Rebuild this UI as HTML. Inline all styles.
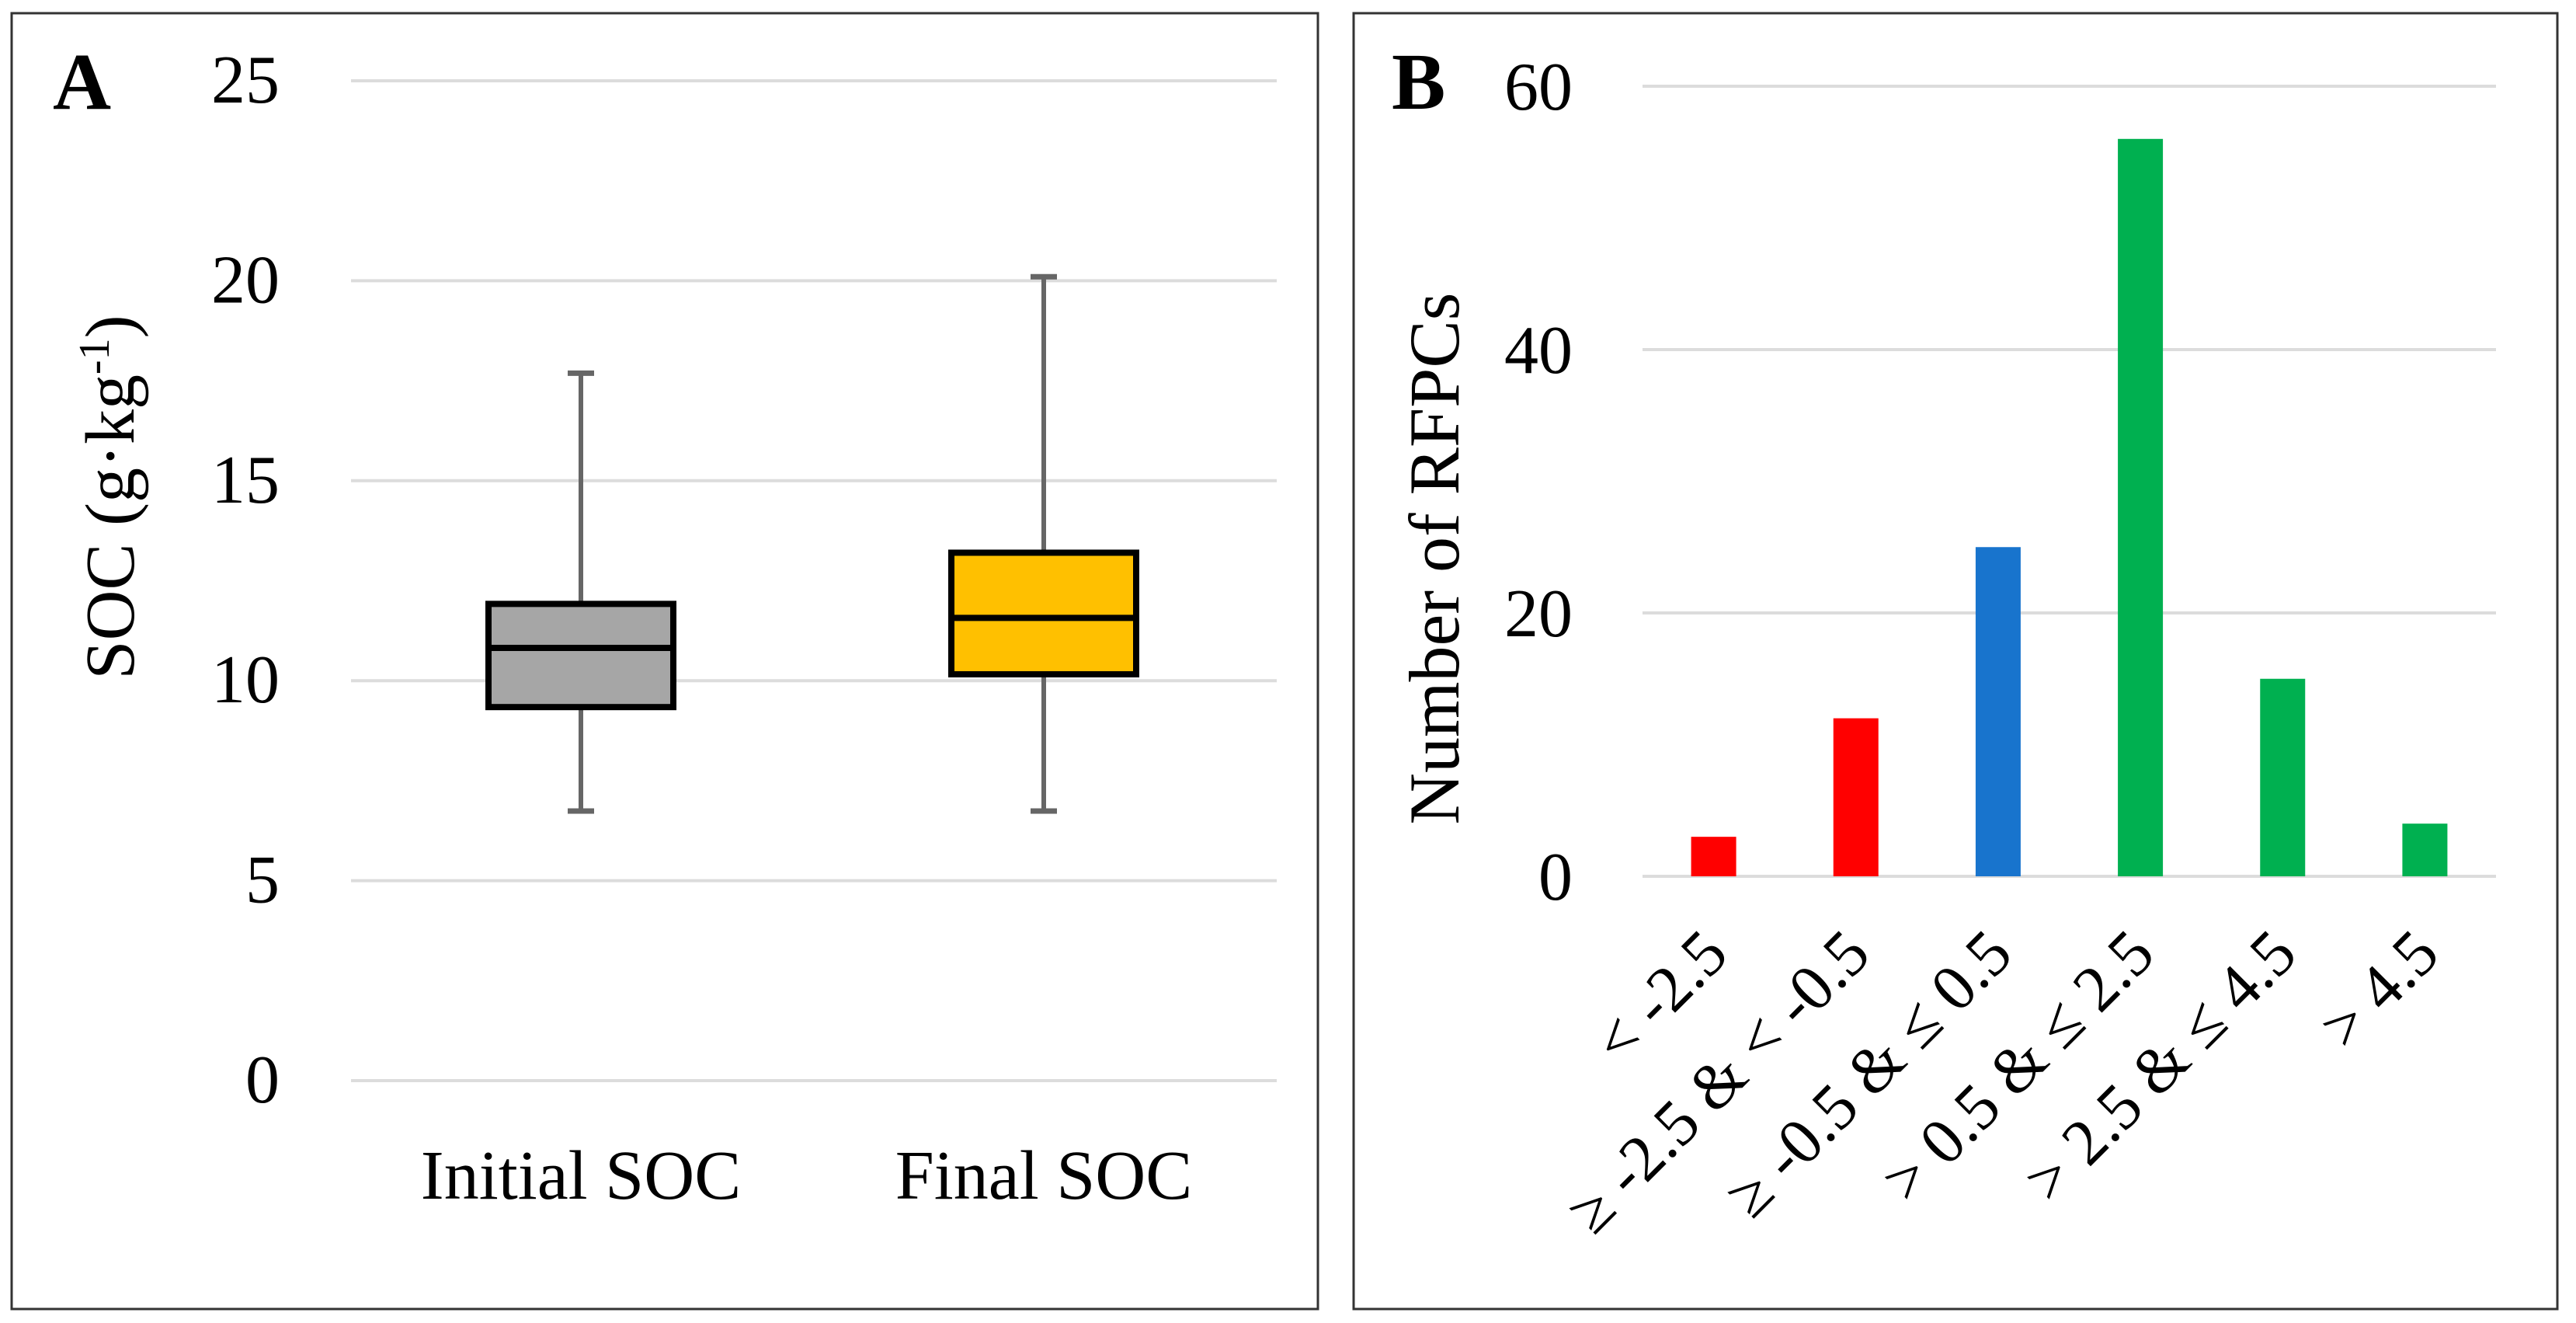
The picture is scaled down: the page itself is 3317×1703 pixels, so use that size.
<!DOCTYPE html>
<html><head><meta charset="utf-8">
<style>
html,body{margin:0;padding:0;background:#fff;}
svg{display:block;}
text{font-family:"Liberation Serif",serif;fill:#000;}
</style></head>
<body>
<svg id="fig" width="3317" height="1703" viewBox="0 0 3317 1703" xmlns="http://www.w3.org/2000/svg">
  <rect x="15" y="17" width="1682" height="1668" fill="#fff" stroke="#333" stroke-width="3"/>
  <rect x="1743" y="17" width="1550" height="1668" fill="#fff" stroke="#333" stroke-width="3"/>
  <text x="68" y="140" font-size="104" font-weight="bold">A</text>
  <text x="1792" y="140" font-size="104" font-weight="bold">B</text>
  <text transform="translate(172,640) rotate(-90)" text-anchor="middle" font-size="90">SOC (g·kg<tspan dy="-32" font-size="56">-1</tspan><tspan dy="32">)</tspan></text>
  <text transform="translate(1878,719) rotate(-90)" text-anchor="middle" font-size="92">Number of RFPCs</text>
  <g id="ga"></g>
  <g id="gb"></g>
</svg>
<script>
// Panel A data
const catsA = ["Initial SOC", "Final SOC"];
const minA = [6.74, 6.74];
const q1A = [9.34, 10.16];
const medA = [10.82, 11.57];
const q3A = [11.92, 13.2];
const maxA = [17.69, 20.1];
const fillA = ["#a6a6a6", "#ffc000"];
const ticksA = [0, 5, 10, 15, 20, 25];

// Panel B data
const catsB = ["< -2.5", "\u2265 -2.5 & < -0.5", "\u2265 -0.5 & \u2264 0.5", "> 0.5 & \u2264 2.5", "> 2.5 & \u2264 4.5", "> 4.5"];
const valsB = [3, 12, 25, 56, 15, 4];
const colorsB = ["#ff0000", "#ff0000", "#1874cd", "#00b050", "#00b050", "#00b050"];
const ticksB = [0, 20, 40, 60];

const NS = "http://www.w3.org/2000/svg";
function mk(parent, tag, attrs, txt) {
  const e = document.createElementNS(NS, tag);
  for (const k in attrs) e.setAttribute(k, attrs[k]);
  if (txt !== undefined) e.textContent = txt;
  parent.appendChild(e);
  return e;
}

// ---- Panel A ----
const ga = document.getElementById("ga");
const aX0 = 452, aX1 = 1644, aY0 = 1391, aY1 = 104;
const yA = v => aY0 - (v - 0) / (25 - 0) * (aY0 - aY1);
const bandA = (aX1 - aX0) / catsA.length;
const xA = i => aX0 + bandA * (i + 0.5) - 2;
ticksA.forEach(t => {
  const l = mk(ga, "line", {x1: aX0, x2: aX1, y1: yA(t), y2: yA(t), stroke: "#dcdcdc", "stroke-width": 4});
  
  
  const tx = mk(ga, "text", {x: 360, y: yA(t) + 28, "text-anchor": "end", "font-size": 88}, String(t));
  
  
});
const boxW = 238, capW = 34;
catsA.forEach((c, i) => {
  const cx = xA(i);
  const g = mk(ga, "g", {});
  
  
  const w1 = mk(g, "line", {x1: cx, x2: cx, y1: yA(maxA[i]), y2: yA(q3A[i]), stroke: "#666", "stroke-width": 6});
  
  
  const w2 = mk(g, "line", {x1: cx, x2: cx, y1: yA(q1A[i]), y2: yA(minA[i]), stroke: "#666", "stroke-width": 6});
  
  
  const c1 = mk(g, "line", {x1: cx - capW / 2, x2: cx + capW / 2, y1: yA(maxA[i]), y2: yA(maxA[i]), stroke: "#666", "stroke-width": 7});
  
  
  const c2 = mk(g, "line", {x1: cx - capW / 2, x2: cx + capW / 2, y1: yA(minA[i]), y2: yA(minA[i]), stroke: "#666", "stroke-width": 7});
  
  
  const b = mk(g, "rect", {x: cx - boxW / 2, y: yA(q3A[i]), width: boxW, height: yA(q1A[i]) - yA(q3A[i]), fill: fillA[i], stroke: "#000", "stroke-width": 8});
  
  
  const m = mk(g, "line", {x1: cx - boxW / 2, x2: cx + boxW / 2, y1: yA(medA[i]), y2: yA(medA[i]), stroke: "#000", "stroke-width": 8});
  
  
  const lt = mk(ga, "text", {x: cx, y: 1543, "text-anchor": "middle", "font-size": 90}, c);
  
  
});

// ---- Panel B ----
const gb = document.getElementById("gb");
const bX0 = 2115, bX1 = 3214, bY0 = 1128, bY1 = 111;
const yB = v => bY0 - (v - 0) / (60 - 0) * (bY0 - bY1);
const bandB = (bX1 - bX0) / catsB.length;
const xB = i => bX0 + bandB * (i + 0.5);
ticksB.forEach(t => {
  const l = mk(gb, "line", {x1: bX0, x2: bX1, y1: yB(t), y2: yB(t), stroke: "#dcdcdc", "stroke-width": 4});
  
  
  const tx = mk(gb, "text", {x: 2025, y: yB(t) + 30, "text-anchor": "end", "font-size": 88}, String(t));
  
  
});
const barW = 58;
valsB.forEach((v, i) => {
  const cx = xB(i);
  const r = mk(gb, "rect", {x: cx - barW / 2, y: yB(v), width: barW, height: yB(0) - yB(v), fill: colorsB[i]});
  
  
  const lt = mk(gb, "text", {transform: "translate(" + (cx + 22) + ",1232) rotate(-45)", "text-anchor": "end", "font-size": 84}, catsB[i]);
  
  
});
</script>
</body></html>
